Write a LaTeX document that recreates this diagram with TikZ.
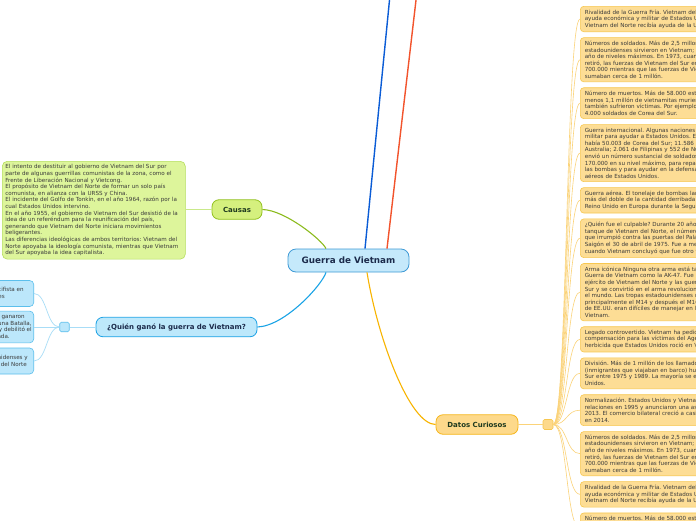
\documentclass[tikz,border=0pt]{standalone}
\usepackage{fontspec}
\setmainfont{DejaVu Sans}
\frenchspacing
\definecolor{cf}{HTML}{C5E9FB}
\definecolor{cb}{HTML}{3E9AD6}
\definecolor{causf}{HTML}{D5F07E}
\definecolor{causb}{HTML}{92C11E}
\definecolor{ctf}{HTML}{DDF59B}
\definecolor{ctb}{HTML}{B5DE5C}
\definecolor{qf}{HTML}{BDE8FB}
\definecolor{qb}{HTML}{1DA2E5}
\definecolor{lbf}{HTML}{BCE7FB}
\definecolor{lbb}{HTML}{5BBFEC}
\definecolor{df}{HTML}{FDD98B}
\definecolor{db}{HTML}{F6B61A}
\definecolor{rbf}{HTML}{FDDD95}
\definecolor{rbb}{HTML}{F7C750}
\definecolor{bluel}{HTML}{0A5CD6}
\definecolor{redl}{HTML}{F2532C}
\definecolor{greenl}{HTML}{8CBB1E}
\definecolor{cyanl}{HTML}{19A3E6}
\definecolor{orangel}{HTML}{F8B400}
\definecolor{lgreen}{HTML}{C9E98A}
\definecolor{lblue}{HTML}{A8DDF7}
\definecolor{lorange}{HTML}{FBD379}
\definecolor{navy}{HTML}{1C2B4B}
\definecolor{txt}{HTML}{3A3A3A}
\definecolor{dgreen}{HTML}{1F3A1F}
\tikzset{
  small/.style={font=\fontsize{5.6}{6.6}\selectfont\frenchspacing, text=txt},
  mainnode/.style={draw=cb, fill=cf, line width=0.8pt, rounded corners=8pt, minimum width=121pt, minimum height=23pt, inner sep=0pt, font=\bfseries\fontsize{8.8}{10}\selectfont, text=navy},
  topic/.style={line width=0.8pt, rounded corners=7pt, inner sep=0pt, minimum height=19.5pt, font=\bfseries\fontsize{7}{8}\selectfont},
  ctbox/.style={small, draw=ctb, fill=ctf, line width=0.6pt, rounded corners=5pt, text width=177pt, align=left, inner xsep=3pt, inner ysep=3.3pt, anchor=north west},
  lbox/.style={small, draw=lbb, fill=lbf, line width=0.6pt, rounded corners=4pt, align=right, inner xsep=2pt, inner ysep=3.3pt, minimum height=26pt, anchor=east},
  rbox/.style={small, draw=rbb, fill=rbf, line width=0.6pt, rounded corners=3.5pt, text width=200pt, align=left, inner xsep=4.5pt, inner ysep=3.3pt, anchor=north west},
  sq/.style={inner sep=0pt, line width=0.6pt, rounded corners=1.5pt},
  rcon/.style={draw=lorange, line width=0.6pt},
  lcon/.style={draw=lblue, line width=0.7pt},
}
\begin{document}
\begin{tikzpicture}[x=1pt,y=-1pt]
\useasboundingbox (0,0) rectangle (696,520);
\clip (0,0) rectangle (696,520);
\fill[white] (0,0) rectangle (696,520);

% central node
\node[mainnode] (center) at (348.5,260.5) {Guerra de Vietnam};
\coordinate (topL) at (390,-5);
\coordinate (topR) at (416.6,-5);
\draw[bluel, line width=1.4pt] ([xshift=16.5pt]center.north) -- (topL);
\draw[redl, line width=1.4pt] ([xshift=38.5pt]center.north) -- (topR);

% Causas
\node[topic, draw=causb, fill=causf, text=dgreen, minimum width=50pt] (causas) at (237,209.5) {Causas};
\draw[greenl, line width=1.1pt] (causas.east) .. controls (285,210) and (322,240) .. ([xshift=-22.5pt]center.north);
\node[ctbox] (ctext) at (2,161) {El intento de destituir al gobierno de Vietnam del Sur por\\
parte de algunas guerrillas comunistas de la zona, como el\\
Frente de Liberación Nacional y Vietcong.\\
El propósito de Vietnam del Norte de formar un solo país\\
comunista, en alianza con la URSS y China.\\
El incidente del Golfo de Tonkín, en el año 1964, razón por la\\
cual Estados Unidos intervino.\\
En el año 1955, el gobierno de Vietnam del Sur desistió de la\\
idea de un referéndum para la reunificación del país,\\
generando que Vietnam del Norte iniciara movimientos\\
beligerantes.\\
Las diferencias ideológicas de ambos territorios: Vietnam del\\
Norte apoyaba la ideología comunista, mientras que Vietnam\\
del Sur apoyaba la idea capitalista.};
\draw[lgreen, line width=0.8pt] (causas.west) -- (ctext.east |- causas.west);

% Quien gano
\node[topic, draw=qb, fill=qf, text=navy, minimum width=161pt] (quien) at (176.5,327) {¿Quién ganó la guerra de Vietnam?};
\draw[cyanl, line width=1.1pt] (quien.east) .. controls (285,326) and (322,285) .. ([xshift=-22.5pt]center.south);
\node[sq, draw=lbb, fill=lbf, minimum size=9.5pt] (lsq) at (64.5,327) {};
\draw[lcon] (quien.west) -- (lsq.east);
\node[lbox] (l1) at (34,293.5) {El movimiento pacifista en\hspace*{8pt}\\ su propio país y la presión de otros países\hspace*{27pt}};
\node[lbox] (l2) at (34,327) {Vietnam del Norte, cuyas tropas ganaron\hspace*{7pt}\\ la guerra y vencieron en más de una Batalla,\hspace*{0pt}\\ lo que desmoralizó y debilitó el\hspace*{3pt}\\ ejército de Estados Unidos y su retirada.\hspace*{22pt}};
\node[lbox] (l3) at (34,361) {Retiro de los soldados estadounidenses y\hspace*{4pt}\\ la victoria de Vietnam del Norte\hspace*{5pt}};
\foreach \i in {1,2,3} \draw[lcon] (lsq.west) .. controls +(-13,0) and +(13,0) .. (l\i.east);

% Datos curiosos
\node[topic, draw=db, fill=df, text=dgreen, minimum width=82pt] (datos) at (477,424.5) {Datos Curiosos};
\draw[orangel, line width=1.1pt] ([xshift=18.5pt]center.south) .. controls (378,340) and (410,424.5) .. (datos.west);
\node[sq, draw=rbb, fill=df, minimum size=10pt] (rsq) at (548,424.5) {};
\draw[rcon, line width=0.8pt] (datos.east) -- (rsq.west);

\node[rbox] (r1) at (580,6) {Rivalidad de la Guerra Fría. Vietnam del Sur recibió\\
ayuda económica y militar de Estados Unidos, mientras\\
Vietnam del Norte recibía ayuda de la Unión Soviética.};
\node[rbox] (r2) at ([yshift=-5.3pt]r1.south west) {Números de soldados. Más de 2,5 millones de\\
estadounidenses sirvieron en Vietnam; 543.000 en 1969,\\
año de niveles máximos. En 1973, cuando Estados Unidos se\\
retiró, las fuerzas de Vietnam del Sur eran de unos\\
700.000 mientras que las fuerzas de Vietnam del Norte\\
sumaban cerca de 1 millón.};
\node[rbox] (r3) at ([yshift=-5.3pt]r2.south west) {Número de muertos. Más de 58.000 estadounidenses y al\\
menos 1,1 millón de vietnamitas murieron. Otros países\\
también sufrieron víctimas. Por ejemplo, murieron más de\\
4.000 soldados de Corea del Sur.};
\node[rbox] (r4) at ([yshift=-5.3pt]r3.south west) {Guerra internacional. Algunas naciones enviaron ayuda\\
militar para ayudar a Estados Unidos. En su nivel máximo\\
había 50.003 de Corea del Sur; 11.586 de Tailandia; 7.672\\
Australia; 2.061 de Filipinas y 552 de Nueva Zelanda. China\\
envió un número sustancial de soldados al Norte, unos\\
170.000 en su nivel máximo, para reparar los daños de\\
las bombas y para ayudar en la defensa contra los ataques\\
aéreos de Estados Unidos.};
\node[rbox] (r5) at ([yshift=-5.3pt]r4.south west) {Guerra aérea. El tonelaje de bombas lanzadas en Vietnam fue\\
más del doble de la cantidad derribada por Estados Unidos y\\
Reino Unido en Europa durante la Segunda Guerra Mundial.};
\node[rbox] (r6) at ([yshift=-5.3pt]r5.south west) {¿Quién fue el culpable? Durante 20 años se creyó que el\\
tanque de Vietnam del Norte, el número 843, fue el primero\\
que irrumpió contra las puertas del Palacio Presidencial en\\
Saigón el 30 de abril de 1975. Fue a mediados de los 90\\
cuando Vietnam concluyó que fue otro tanque, el 390.};
\node[rbox] (r7) at ([yshift=-5.3pt]r6.south west) {Arma icónica Ninguna otra arma está tan asociada con la\\
Guerra de Vietnam como la AK-47. Fue la favorita del\\
ejército de Vietnam del Norte y las guerrillas del Vietcong\\
Sur y se convirtió en el arma revolucionaria de todo\\
el mundo. Las tropas estadounidenses usaron\\
principalmente el M14 y después el M16. Las armas\\
de EE.UU. eran difíciles de manejar en las selvas de\\
Vietnam.};
\node[rbox] (r8) at ([yshift=-5.3pt]r7.south west) {Legado controvertido. Vietnam ha pedido a Estados Unidos\\
compensación para las víctimas del Agente Naranja, un\\
herbicida que Estados Unidos roció en Vietnam.};
\node[rbox] (r9) at ([yshift=-5.3pt]r8.south west) {División. Más de 1 millón de los llamados boat people\\
(inmigrantes que viajaban en barco) huyeron de Vietnam del\\
Sur entre 1975 y 1989. La mayoría se estableció en Estados\\
Unidos.};
\node[rbox] (r10) at ([yshift=-5.3pt]r9.south west) {Normalización. Estados Unidos y Vietnam normalizaron\\
relaciones en 1995 y anunciaron una asociación integral en\\
2013. El comercio bilateral creció a casi 35.000 millones\\
en 2014.};
\node[rbox] (r11) at ([yshift=-5.3pt]r10.south west) {Números de soldados. Más de 2,5 millones de\\
estadounidenses sirvieron en Vietnam; 543.000 en 1969,\\
año de niveles máximos. En 1973, cuando Estados Unidos se\\
retiró, las fuerzas de Vietnam del Sur eran de unos\\
700.000 mientras que las fuerzas de Vietnam del Norte\\
sumaban cerca de 1 millón.};
\node[rbox] (r12) at ([yshift=-5.3pt]r11.south west) {Rivalidad de la Guerra Fría. Vietnam del Sur recibió\\
ayuda económica y militar de Estados Unidos, mientras\\
Vietnam del Norte recibía ayuda de la Unión Soviética.};
\node[rbox] (r13) at ([yshift=-5.3pt]r12.south west) {Número de muertos. Más de 58.000 estadounidenses y al\\
menos 1,1 millón de vietnamitas murieron. Otros países\\
también sufrieron víctimas. Por ejemplo, murieron más de\\
4.000 soldados de Corea del Sur.};
\foreach \i in {1,...,13} \draw[rcon] (rsq.east) .. controls +(14,0) and +(-14,0) .. (r\i.west);
\end{tikzpicture}
\end{document}
